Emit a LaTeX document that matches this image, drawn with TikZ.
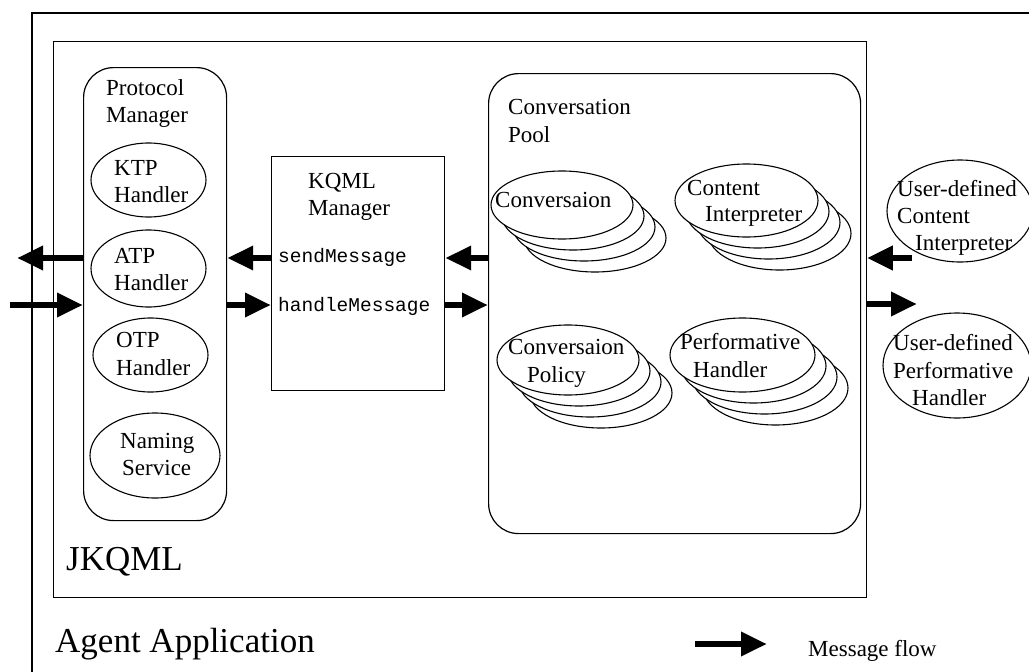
\documentclass[tikz,border=0pt]{standalone}
\usepackage{fontspec}
\setmainfont{Liberation Serif}
\setmonofont{Liberation Mono}
\usetikzlibrary{arrows.meta,shapes.geometric}
\begin{document}
\begin{tikzpicture}[x=1pt,y=-1pt,
  frame/.style={draw, line width=1.3pt, rectangle, inner sep=0pt, anchor=north west},
  rbox/.style={frame, line width=1.2pt, rounded corners=30pt},
  oval/.style={ellipse, draw, line width=1.1pt, fill=white, inner sep=0pt},
  lbl/.style={anchor=base west, inner sep=0pt, font=\fontsize{23}{27}\selectfont},
  code/.style={anchor=base west, inner sep=0pt, font=\ttfamily\fontsize{19.5}{23}\selectfont},
  big/.style={anchor=base west, inner sep=0pt, font=\fontsize{35}{40}\selectfont},
  flow/.style={line width=6.5pt, -{Triangle[length=26pt,width=23pt]}}
]
\useasboundingbox (0,0) rectangle (1029,672);
\clip (0,0) rectangle (1029,672);

% agent application frame, open towards the right and bottom
\draw[line width=1.3pt] (1040,13) -- (32,13) -- (32,690);

% JKQML package
\node[frame, minimum width=813pt, minimum height=556pt] (jkqml) at (52.5,40.5) {};

% protocol manager with its handlers
\node[rbox, minimum width=143pt, minimum height=453pt] (pm) at (83,67) {};
\node[oval, minimum width=115pt, minimum height=74pt] (ktp) at (148.5,180) {};
\node[oval, minimum width=115pt, minimum height=77pt] (atp) at (148.5,268.5) {};
\node[oval, minimum width=115pt, minimum height=74pt] (otp) at (150.5,355) {};
\node[oval, minimum width=130pt, minimum height=85pt] (naming) at (155,455.5) {};

\node[lbl] (pmT1) at (106,95) {Protocol};
\node[lbl] (pmT2) at (106,122) {Manager};
\node[lbl] (ktpT1) at (114,175) {KTP};
\node[lbl] (ktpT2) at (114,202) {Handler};
\node[lbl] (atpT1) at (114,263) {ATP};
\node[lbl] (atpT2) at (114,290) {Handler};
\node[lbl] (otpT1) at (116,347) {OTP};
\node[lbl] (otpT2) at (116,375) {Handler};
\node[lbl] (namT1) at (120,448) {Naming};
\node[lbl] (namT2) at (122,475) {Service};

% KQML manager
\node[frame, line width=1.2pt, minimum width=173pt, minimum height=234pt] (kqml) at (271,156) {};
\node[lbl] (kqT1) at (308,188) {KQML};
\node[lbl] (kqT2) at (308,215) {Manager};
\node[code] (send) at (278,262) {sendMessage};
\node[code] (handle) at (278,311) {handleMessage};

% conversation pool with stacked components
\node[rbox, minimum width=372pt, minimum height=460pt] (pool) at (488,73) {};
\node[lbl] (poolT1) at (508,114) {Conversation};
\node[lbl] (poolT2) at (508,142) {Pool};

\foreach \k in {3,2,1} {
  \node[oval, minimum width=142pt, minimum height=68pt] (conv-\k) at (562+11*\k,205+11*\k) {};
  \node[oval, minimum width=143pt, minimum height=73pt] (ci-\k) at (746.5+11*\k,200.5+11*\k) {};
  \node[oval, minimum width=142pt, minimum height=70pt] (cp-\k) at (568+11*\k,360+11*\k) {};
  \node[oval, minimum width=145pt, minimum height=74pt] (ph-\k) at (742.5+11*\k,355+11*\k) {};
}
\node[oval, minimum width=142pt, minimum height=68pt] (conv) at (562,205) {};
\node[oval, minimum width=143pt, minimum height=73pt] (ci) at (746.5,200.5) {};
\node[oval, minimum width=142pt, minimum height=70pt] (cp) at (568,360) {};
\node[oval, minimum width=145pt, minimum height=74pt] (ph) at (742.5,355) {};

\node[lbl] (convT) at (495,207) {Conversaion};
\node[lbl] (ciT1) at (687,195) {Content};
\node[lbl] (ciT2) at (705,221) {Interpreter};
\node[lbl] (cpT1) at (508,354) {Conversaion};
\node[lbl] (cpT2) at (527,382) {Policy};
\node[lbl] (phT1) at (680,349) {Performative};
\node[lbl] (phT2) at (693,377) {Handler};

% user-defined plug-ins
\node[oval, minimum width=146pt, minimum height=102pt] (udci) at (960,211) {};
\node[oval, minimum width=148pt, minimum height=105pt] (udph) at (957,365.5) {};
\node[lbl] (udciT1) at (897,196) {User-defined};
\node[lbl] (udciT2) at (897,223) {Content};
\node[lbl] (udciT3) at (915,250) {Interpreter};
\node[lbl] (udphT1) at (893,350) {User-defined};
\node[lbl] (udphT2) at (893,378) {Performative};
\node[lbl] (udphT3) at (912,405) {Handler};

% captions
\node[big] (capJ) at (66,570) {JKQML};
\node[big] (capA) at (55,652) {Agent Application};

% message flows
\coordinate (rowA) at (0,258);
\coordinate (rowB) at (0,305);
\coordinate (outL) at (17,258);
\coordinate (inL) at (10,305);
\coordinate (udIn) at (912,258);
\coordinate (udOut) at (917,304);
\draw[flow] (pm.west |- rowA) -- (outL);
\draw[flow] (inL) -- (pm.west |- rowB);
\draw[flow] (kqml.west |- rowA) -- (pm.east |- rowA);
\draw[flow] (pm.east |- rowB) -- (kqml.west |- rowB);
\draw[flow] (pool.west |- rowA) -- (kqml.east |- rowA);
\draw[flow] (kqml.east |- rowB) -- (pool.west |- rowB);
\draw[flow] (udIn) -- (jkqml.east |- udIn);
\draw[flow] (jkqml.east |- udOut) -- (udOut);

% legend
\coordinate (legA) at (695,644);
\coordinate (legB) at (767,644);
\draw[flow] (legA) -- (legB);
\node[lbl] (legT) at (808,656) {Message flow};
\end{tikzpicture}
\end{document}
